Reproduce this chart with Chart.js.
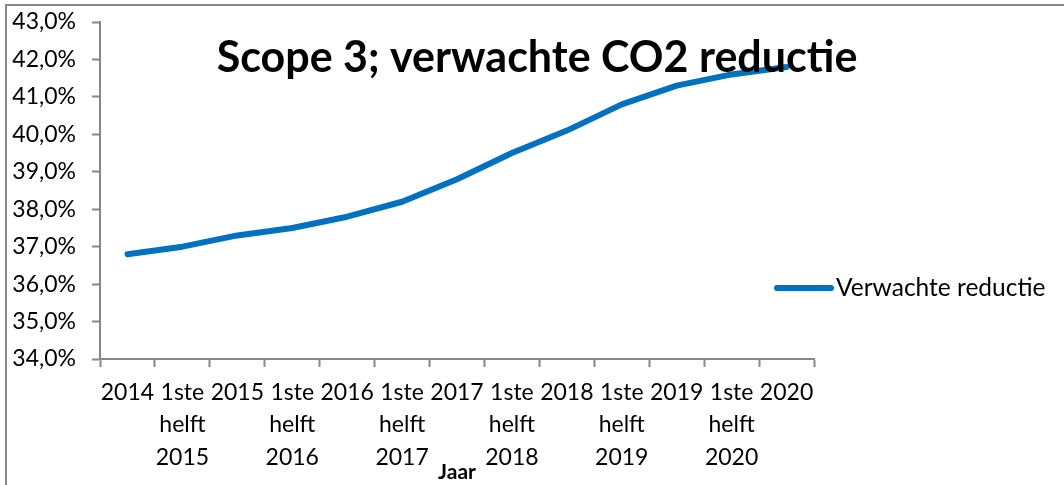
<!DOCTYPE html>
<html>
<head>
<meta charset="utf-8">
<script src="https://cdn.jsdelivr.net/npm/chart.js@4.4.0/dist/chart.umd.min.js"></script>
<style>
  html, body { margin: 0; padding: 0; background: #fff; }
  #wrap { position: relative; width: 1064px; height: 485px; overflow: hidden; }
  #frame { position: absolute; left: 5px; top: 4px; right: -10px; bottom: -10px;
           border-left: 2px solid #878787; border-top: 2px solid #878787; pointer-events: none; }
  canvas { position: absolute; left: 0; top: 0; }
</style>
</head>
<body>
<div id="wrap">
  <canvas id="chart" width="1064" height="485"></canvas>
  <div id="frame"></div>
</div>
<script>
// Chart data
const categories = [
  '2014', ['1ste', 'helft', '2015'],
  '2015', ['1ste', 'helft', '2016'],
  '2016', ['1ste', 'helft', '2017'],
  '2017', ['1ste', 'helft', '2018'],
  '2018', ['1ste', 'helft', '2019'],
  '2019', ['1ste', 'helft', '2020'],
  '2020'
];
const verwachteReductie = [36.8, 37.0, 37.3, 37.5, 37.8, 38.2, 38.8, 39.5, 40.1, 40.8, 41.3, 41.6, 41.8];
const seriesName = 'Verwachte reductie';
const chartTitle = 'Scope 3; verwachte CO2 reductie';
const xAxisTitle = 'Jaar';
const yMin = 34;
const yMax = 43;
const yStep = 1;

const FONT = 'Lato, "Open Sans", sans-serif';
const AXIS_GREY = '#878787';
const LINE_BLUE = '#0070C0';

// big bold title that sits inside the plot area (like Excel does)
const overlayTitle = {
  id: 'overlayTitle',
  afterDatasetsDraw(chart) {
    const ctx = chart.ctx;
    ctx.save();
    ctx.font = 'bold 43px ' + FONT;
    ctx.fillStyle = '#000';
    ctx.textAlign = 'center';
    ctx.textBaseline = 'alphabetic';
    ctx.fillText(chartTitle, 537, 72);
    ctx.restore();
  }
};

// legend entry to the right, overlapping the plot's right edge a bit
const sideLegend = {
  id: 'sideLegend',
  afterDraw(chart) {
    const ctx = chart.ctx;
    const ds = chart.data.datasets[0];
    const y = 288;
    ctx.save();
    ctx.strokeStyle = ds.borderColor;
    ctx.lineWidth = ds.borderWidth;
    ctx.lineCap = 'round';
    ctx.beginPath();
    ctx.moveTo(777, y);
    ctx.lineTo(831, y);
    ctx.stroke();
    ctx.font = '24.5px ' + FONT;
    ctx.fillStyle = '#000';
    ctx.textAlign = 'left';
    ctx.textBaseline = 'middle';
    ctx.fillText(ds.label, 836, y);
    ctx.restore();
  }
};

const ctx = document.getElementById('chart').getContext('2d');
const chart = new Chart(ctx, {
  type: 'line',
  data: {
    labels: categories,
    datasets: [{
      label: seriesName,
      data: verwachteReductie,
      borderColor: LINE_BLUE,
      backgroundColor: LINE_BLUE,
      borderWidth: 6,
      borderCapStyle: 'round',
      borderJoinStyle: 'round',
      pointRadius: 0,
      tension: 0
    }]
  },
  options: {
    responsive: false,
    animation: false,
    devicePixelRatio: 1,
    layout: { padding: { top: 22, right: 250, left: 0, bottom: 0 } },
    plugins: {
      legend: { display: false },
      title: { display: false },
      tooltip: { enabled: false }
    },
    scales: {
      x: {
        type: 'category',
        offset: true,
        afterFit(scale) { scale.height = 126; },
        grid: {
          offset: true,
          drawOnChartArea: false,
          drawTicks: true,
          tickLength: 8,
          tickWidth: 2,
          color: AXIS_GREY
        },
        border: { display: true, color: AXIS_GREY, width: 2 },
        ticks: {
          color: '#000',
          font: { family: FONT, size: 23, lineHeight: 1.42 },
          padding: 9,
          maxRotation: 0,
          minRotation: 0,
          autoSkip: false
        },
        title: {
          display: true,
          text: xAxisTitle,
          color: '#000',
          font: { family: FONT, size: 21, weight: 'bold' },
          padding: { top: 0, bottom: 0 }
        }
      },
      y: {
        min: yMin,
        max: yMax,
        afterFit(scale) {
          scale.width = 100;
          scale.paddingTop = 0;
          scale.paddingBottom = 0;
        },
        grid: {
          drawOnChartArea: false,
          drawTicks: true,
          tickLength: 8,
          tickWidth: 2,
          color: AXIS_GREY
        },
        border: { display: true, color: AXIS_GREY, width: 2 },
        ticks: {
          stepSize: yStep,
          color: '#000',
          font: { family: FONT, size: 23 },
          padding: 16,
          callback: v => v.toFixed(1).replace('.', ',') + '%'
        }
      }
    }
  },
  plugins: [overlayTitle, sideLegend]
});
</script>
</body>
</html>
